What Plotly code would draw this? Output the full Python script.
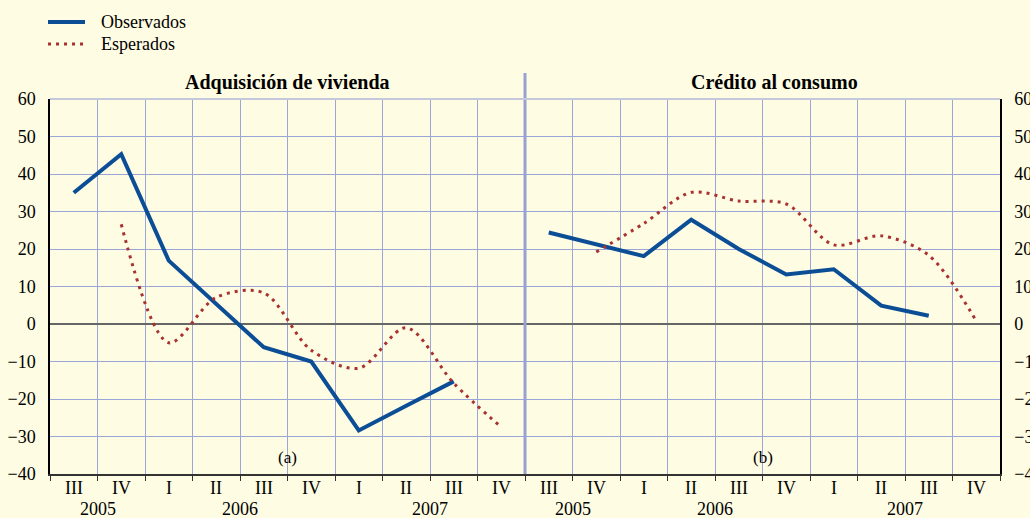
import plotly.graph_objects as go
from plotly.subplots import make_subplots

quarters = ["III", "IV", "I", "II", "III", "IV", "I", "II", "III", "IV"]
years = ["2005", "2006", "2007"]
year_pos = [0.5, 3.5, 7.5]

viv_obs = [35.0, 45.3, 16.9, 5.2, -6.2, -10.0, -28.4, -21.8, -15.3, None]
viv_esp = [None, 26.6, -5.0, 7.1, 8.3, -7.0, -11.8, -1.0, -15.8, -27.5]
con_obs = [24.4, 21.3, 18.1, 27.8, 20.0, 13.2, 14.6, 4.9, 2.2, None]
con_esp = [None, 19.2, 26.8, 35.1, 32.8, 32.0, 21.1, 23.5, 18.3, 0.8]

titles = ["Adquisición de vivienda", "Crédito al consumo"]
panel_tags = ["(a)", "(b)"]
series_names = ["Observados", "Esperados"]
yticks = [60, 50, 40, 30, 20, 10, 0, -10, -20, -30, -40]

BG = "#FEFCE3"
BLUE = "#0B4E96"
RED = "#A83232"
GRID = "#9AA5D8"
FONT = "Liberation Serif"
DOTS = "3px,5px"

W, H = 1030, 518
ML, MR, MT, MB = 50, 30, 99, 44
PW, PH = W - ML - MR, H - MT - MB


def px(xp):
    return (xp - ML) / PW


def py(yp):
    return (H - MB - yp) / PH


x = list(range(len(quarters)))

fig = make_subplots(rows=1, cols=2, horizontal_spacing=0)

for col, (obs, esp) in enumerate([(viv_obs, viv_esp), (con_obs, con_esp)], start=1):
    fig.add_trace(go.Scatter(x=x, y=obs, mode="lines", name=series_names[0],
                             line=dict(color=BLUE, width=4),
                             showlegend=False), row=1, col=col)
    fig.add_trace(go.Scatter(x=x, y=esp, mode="lines", name=series_names[1],
                             line=dict(color=RED, width=3, dash=DOTS,
                                       shape="spline", smoothing=0.9),
                             showlegend=False), row=1, col=col)

bounds = [i - 0.5 for i in range(len(quarters) + 1)]
for col in (1, 2):
    fig.update_xaxes(range=[-0.5, len(quarters) - 0.5], tickvals=bounds,
                     ticktext=[""] * len(bounds), showgrid=True,
                     gridcolor=GRID, gridwidth=1, zeroline=False,
                     showline=True, linecolor="#333333", linewidth=1.5,
                     ticks="outside", ticklen=5, tickcolor="#333333",
                     automargin=False, row=1, col=col)
    fig.update_yaxes(range=[-40, 60], tickvals=yticks, showgrid=True,
                     gridcolor=GRID, gridwidth=1, zeroline=True,
                     zerolinecolor="#666666", zerolinewidth=2,
                     showline=True, linecolor="black", linewidth=1.5,
                     ticks="", ticklabelstandoff=9, automargin=False,
                     tickfont=dict(family=FONT, size=18, color="black"),
                     row=1, col=col)

fig.update_yaxes(side="left", row=1, col=1)
fig.update_yaxes(side="right", showticklabels=True, row=1, col=2)

annotations = []
for col, xref in enumerate(["x", "x2"]):
    for i, q in enumerate(quarters):
        annotations.append(dict(x=i, y=py(488), xref=xref, yref="paper", text=q,
                                showarrow=False, xanchor="center", yanchor="middle",
                                font=dict(family=FONT, size=18, color="black")))
    for yr, p in zip(years, year_pos):
        annotations.append(dict(x=p, y=py(509), xref=xref, yref="paper", text=yr,
                                showarrow=False, xanchor="center", yanchor="middle",
                                font=dict(family=FONT, size=18, color="black")))
    annotations.append(dict(x=4.5, y=py(457), xref=xref, yref="paper",
                            text=panel_tags[col], showarrow=False,
                            xanchor="center", yanchor="middle",
                            font=dict(family=FONT, size=17, color="black")))

annotations.append(dict(x=px(287), y=py(82), xref="paper", yref="paper",
                        text="<b>" + titles[0] + "</b>", showarrow=False,
                        xanchor="center", yanchor="middle",
                        font=dict(family=FONT, size=20, color="black")))
annotations.append(dict(x=px(774), y=py(82), xref="paper", yref="paper",
                        text="<b>" + titles[1] + "</b>", showarrow=False,
                        xanchor="center", yanchor="middle",
                        font=dict(family=FONT, size=20, color="black")))

# legend (drawn manually)
for name, ypix in zip(series_names, [22, 44]):
    annotations.append(dict(x=px(99), y=py(ypix), xref="paper", yref="paper",
                            text=name, showarrow=False, xanchor="left",
                            yanchor="middle",
                            font=dict(family=FONT, size=18, color="black")))

shapes = [
    dict(type="line", xref="paper", yref="paper", x0=0.5, x1=0.5, y0=0, y1=py(73),
         line=dict(color="#97A2D2", width=3)),
    dict(type="line", xref="paper", yref="paper", x0=0, x1=1, y0=1, y1=1,
         line=dict(color="#C4C8DA", width=2)),
    dict(type="line", xref="paper", yref="paper", x0=px(48), x1=px(85),
         y0=py(22), y1=py(22), line=dict(color=BLUE, width=4)),
    dict(type="line", xref="paper", yref="paper", x0=px(48), x1=px(86),
         y0=py(44), y1=py(44), line=dict(color=RED, width=3, dash=DOTS)),
]

fig.update_layout(
    width=W, height=H,
    margin=dict(l=ML, r=MR, t=MT, b=MB, autoexpand=False),
    paper_bgcolor=BG, plot_bgcolor=BG,
    annotations=annotations, shapes=shapes,
    showlegend=False,
    font=dict(family=FONT),
)

fig.write_html("out.html", config={"displayModeBar": False},
               post_script="document.body.style.margin='0';document.body.style.overflow='hidden';")
